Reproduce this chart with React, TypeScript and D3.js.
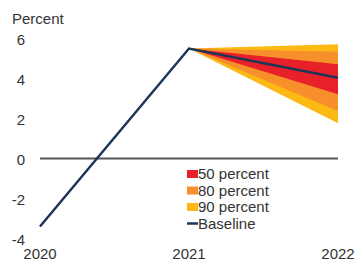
import React from "react";
import * as d3 from "d3";

const years = [2020, 2021, 2022];
const baseline = [-3.4, 5.5, 4.04];
const band90 = { lo: 1.76, hi: 5.71 };
const band80 = { lo: 2.38, hi: 5.34 };
const band50 = { lo: 3.21, hi: 4.71 };
const yTicks = [6, 4, 2, 0, -2, -4];
const legendItems = [
  { label: "50 percent", color: "#e8202a", kind: "box" },
  { label: "80 percent", color: "#f78f2a", kind: "box" },
  { label: "90 percent", color: "#fdb913", kind: "box" },
  { label: "Baseline", color: "#1c3657", kind: "line" },
];

const W = 357;
const H = 262;

export default function App() {
  const x = d3.scaleLinear().domain([2020, 2022]).range([40, 338]);
  const y = d3.scaleLinear().domain([-4, 6]).range([238.5, 38.5]);
  const font = "Liberation Sans, Arial, sans-serif";
  const textColor = "#333333";

  const bandPath = (b: { lo: number; hi: number }) => {
    const pts: [number, number][] = [
      [x(2021), y(baseline[1])],
      [x(2022), y(b.hi)],
      [x(2022), y(b.lo)],
    ];
    return d3.line()(pts)! + "Z";
  };

  const line = d3
    .line<number>()
    .x((_, i) => x(years[i]))
    .y((d) => y(d));

  return (
    <svg
      width={W}
      height={H}
      style={{ position: "absolute", left: 0, top: 0, background: "#fff" }}
    >
      <text x={12} y={24} fontFamily={font} fontSize={15} fill={textColor}>
        Percent
      </text>
      {yTicks.map((t) => (
        <text
          key={t}
          x={25}
          y={y(t) + 1.5}
          dy="0.35em"
          textAnchor="end"
          fontFamily={font}
          fontSize={15}
          fill={textColor}
        >
          {t}
        </text>
      ))}
      {years.map((yr) => (
        <text
          key={yr}
          x={x(yr)}
          y={258.5}
          textAnchor="middle"
          fontFamily={font}
          fontSize={15}
          fill={textColor}
        >
          {yr}
        </text>
      ))}
      <line
        x1={x(2020)}
        x2={x(2022)}
        y1={y(0)}
        y2={y(0)}
        stroke="#555"
        strokeWidth={2}
      />
      <path d={bandPath(band90)} fill="#fdb913" />
      <path d={bandPath(band80)} fill="#f78f2a" />
      <path d={bandPath(band50)} fill="#e8202a" />
      <path
        d={line(baseline)!}
        fill="none"
        stroke="#1c3657"
        strokeWidth={2.5}
      />
      {legendItems.map((it, i) => {
        const cy = 174 + i * 16.5;
        return (
          <g key={it.label}>
            {it.kind === "box" ? (
              <rect x={187} y={cy - 4} width={11} height={8} fill={it.color} />
            ) : (
              <line
                x1={187}
                x2={198}
                y1={cy}
                y2={cy}
                stroke={it.color}
                strokeWidth={2.5}
              />
            )}
            <text
              x={198}
              y={cy}
              dy="0.35em"
              fontFamily={font}
              fontSize={15}
              fill={textColor}
            >
              {it.label}
            </text>
          </g>
        );
      })}
    </svg>
  );
}
